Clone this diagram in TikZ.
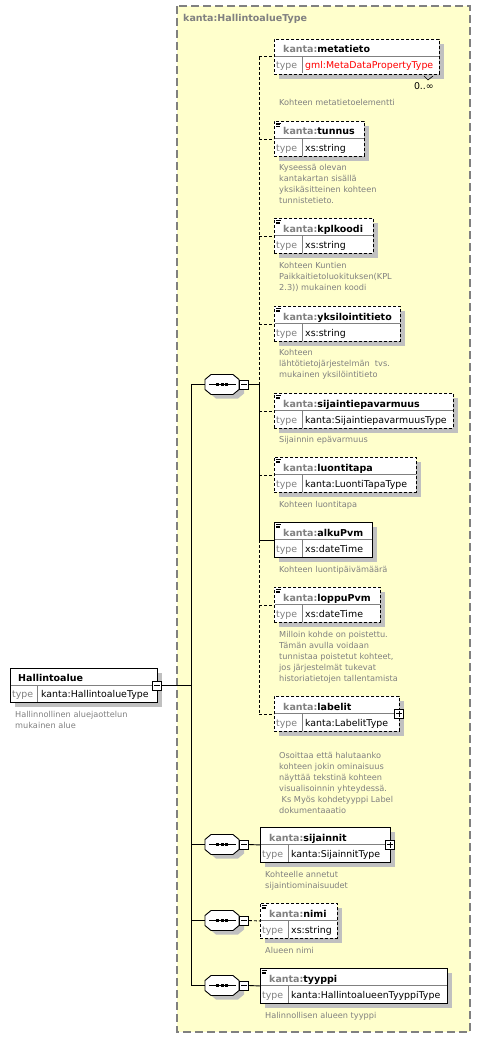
\documentclass[tikz,border=0pt]{standalone}
\usepackage{fontspec}
\setmainfont{DejaVu Sans}
\definecolor{ylw}{HTML}{FFFFCC}
\definecolor{bordc}{HTML}{808080}
\definecolor{shadowc}{HTML}{C0C0C0}
\definecolor{pref}{HTML}{808080}
\definecolor{dscc}{HTML}{808080}
\definecolor{divc}{HTML}{808080}
\tikzset{
  ebox/.style={draw=black, fill=white, line width=0.9pt, inner sep=0pt, minimum height=35pt},
  opt/.style={dash pattern=on 3pt off 2pt},
  req/.style={solid},
  divl/.style={draw=divc, line width=0.8pt},
  hdr/.style={anchor=base west, inner sep=0pt, font=\fontsize{9.5}{11}\selectfont\bfseries},
  typ/.style={anchor=base west, inner sep=0pt, font=\fontsize{9.4}{11}\selectfont},
  dsc/.style={anchor=north west, inner sep=0pt, align=left, text=dscc, font=\fontsize{8.2}{11}\selectfont},
  conn/.style={draw=black, line width=0.9pt},
  mbox/.style={draw=black, fill=white, line width=0.8pt, minimum size=9pt, inner sep=0pt},
  iconl/.style={draw=black, line width=0.6pt},
}
\newcommand{\elem}[8]{%
  \fill[shadowc] (#2+5,#3+5) rectangle (#2+#4+5,#3+40);
  \node[ebox,#5,minimum width=#4pt,anchor=north west] (#1) at (#2,#3) {};
  \draw[divl] (#2+0.5,#3+17.5) -- (#2+#4-0.5,#3+17.5);
  \draw[divl] (#2+28,#3+17.5) -- (#2+28,#3+34.5);
  \node[hdr] (#1-h) at (#2+9,#3+14) {\textcolor{pref}{kanta:}#6};
  \node[typ,text=pref] (#1-t) at (#2+2,#3+30) {type};
  \node[typ] (#1-v) at (#2+31,#3+30) {#7};
  \ifnum#8=1
    \draw[iconl] (#2+2,#3+2) -- (#2+7,#3+2);
    \draw[iconl] (#2+2,#3+3.8) -- (#2+6,#3+3.8);
    \draw[iconl] (#2+2,#3+5.6) -- (#2+6,#3+5.6);
  \fi
}
\newcommand{\dscr}[4]{\node[dsc] (#1) at (#2,#3-8) {\rule{0pt}{8pt}#4};}
\newcommand{\seqi}[2]{%
  \begin{scope}[shift={(222,#2)}]
    \fill[shadowc] (-6,-6) -- (16,-6) -- (22,-1) -- (22,9) -- (16,14) -- (-6,14) -- (-12,9) -- (-12,-1) -- cycle;
    \filldraw[fill=white, draw=black, line width=0.9pt] (-11,-10) -- (11,-10) -- (17,-5) -- (17,5) -- (11,10) -- (-11,10) -- (-17,5) -- (-17,-5) -- cycle;
    \node[inner sep=0pt, minimum width=34pt, minimum height=20pt] (#1) at (0,0) {};
    \draw[black, line width=0.9pt] (-13,0) -- (14,0);
    \fill[black] (-5.8,-1.3) rectangle (-2.8,1.3);
    \fill[black] (-1.5,-1.3) rectangle (1.5,1.3);
    \fill[black] (2.8,-1.3) rectangle (5.8,1.3);
    \node[mbox] (#1m) at (22,0) {};
    \draw[black, line width=0.8pt] (19,0) -- (25,0);
  \end{scope}
}
\begin{document}
\begin{tikzpicture}[x=1pt,y=-1pt]
\useasboundingbox (0,0) rectangle (481,1038);
\fill[white] (0,0) rectangle (481,1038);
% container
\filldraw[fill=ylw, draw=bordc, line width=1.3pt, dash pattern=on 8pt off 4pt] (177,6) rectangle (470,1032);
\node[hdr, text=pref] (title) at (183,22) {kanta:HallintoalueType};

% root element
\fill[shadowc] (15,673) rectangle (162,707);
\node[ebox, minimum width=147pt, minimum height=34pt, anchor=north west] (root) at (10,668) {};
\draw[divl] (10.5,685) -- (156.5,685);
\draw[divl] (37,685) -- (37,701.5);
\node[hdr] (root-h) at (18,681) {Hallintoalue};
\node[typ,text=pref] (root-t) at (12,697) {type};
\node[typ] (root-v) at (41,697) {kanta:HallintoalueType};
\node[mbox] (rootm) at (157,685.5) {};
\draw[black, line width=0.8pt] (154,685.5) -- (160,685.5);
\dscr{root-d}{15}{717}{Hallinnollinen aluejaottelun\\mukainen alue}

% sequence icons
\seqi{sA}{384.5}
\seqi{sB}{844.5}
\seqi{sC}{920.5}
\seqi{sD}{985.5}

% elements
\elem{metatieto}{274}{39}{165}{opt}{metatieto}{\textcolor{red}{gml:MetaDataPropertyType}}{0}
\draw[black, line width=0.6pt] (424,76) -- (428,80) -- (433,76);
\node[typ, anchor=base east] (mult) at (434,90) {0..∞};
\dscr{metatieto-d}{279}{105}{Kohteen metatietoelementti}

\elem{tunnus}{274}{121}{90}{opt}{tunnus}{xs:string}{1}
\dscr{tunnus-d}{279}{170}{Kyseessä olevan\\kantakartan sisällä\\yksikäsitteinen kohteen\\tunnistetieto.}

\elem{kplkoodi}{274}{218}{99}{opt}{kplkoodi}{xs:string}{1}
\dscr{kplkoodi-d}{279}{268}{Kohteen Kuntien\\Paikkaitietoluokituksen(KPL\\2.3)) mukainen koodi}

\elem{yksil}{274}{306}{126}{opt}{yksilointitieto}{xs:string}{1}
\dscr{yksil-d}{279}{355}{Kohteen\\lähtötietojärjestelmän\ \ tvs.\\mukainen yksilöintitieto}

\elem{sijep}{274}{393}{179}{opt}{sijaintiepavarmuus}{kanta:SijaintiepavarmuusType}{1}
\dscr{sijep-d}{279}{442}{Sijainnin epävarmuus}

\elem{luonti}{274}{457}{142}{opt}{luontitapa}{kanta:LuontiTapaType}{1}
\dscr{luonti-d}{279}{507}{Kohteen luontitapa}

\elem{alku}{274}{522}{98}{req}{alkuPvm}{xs:dateTime}{1}
\dscr{alku-d}{279}{572}{Kohteen luontipäivämäärä}

\elem{loppu}{274}{587}{106}{opt}{loppuPvm}{xs:dateTime}{1}
\dscr{loppu-d}{279}{637}{Milloin kohde on poistettu.\\Tämän avulla voidaan\\tunnistaa poistetut kohteet,\\jos järjestelmät tukevat\\historiatietojen tallentamista}

\elem{labelit}{274}{696}{125}{opt}{labelit}{kanta:LabelitType}{0}
\node[mbox] (labelitp) at (399,713.5) {};
\draw[black, line width=0.8pt] (396,713.5) -- (402,713.5) (399,710.5) -- (399,716.5);
\dscr{labelit-d}{279}{758}{Osoittaa että halutaanko\\kohteen jokin ominaisuus\\näyttää tekstinä kohteen\\visualisoinnin yhteydessä.\\\hspace*{2.5pt}Ks Myös kohdetyyppi Label\\dokumentaaatio}

\elem{sijainnit}{260}{827}{130}{req}{sijainnit}{kanta:SijainnitType}{0}
\node[mbox] (sijainnitp) at (390,844.5) {};
\draw[black, line width=0.8pt] (387,844.5) -- (393,844.5) (390,841.5) -- (390,847.5);
\dscr{sijainnit-d}{265}{877}{Kohteelle annetut\\sijaintiominaisuudet}

\elem{nimi}{260}{903}{77}{opt}{nimi}{xs:string}{1}
\dscr{nimi-d}{265}{953}{Alueen nimi}

\elem{tyyppi}{260}{968}{187}{req}{tyyppi}{kanta:HallintoalueenTyyppiType}{1}
\dscr{tyyppi-d}{265}{1018}{Halinnollisen alueen tyyppi}

% connectors
\coordinate (tr) at (191,685.5);
\coordinate (t1) at (191,384.5);
\coordinate (t4) at (191,985.5);
\coordinate (br) at (259,384.5);
\draw[conn] (t1) -- (t4);
\draw[conn] (rootm.east) -- (tr);
\draw[conn] (t1) -- (sA.west);
\draw[conn] (sB.west -| t1) -- (sB.west);
\draw[conn] (sC.west -| t1) -- (sC.west);
\draw[conn] (sD.west -| t1) -- (sD.west);
\draw[conn] (sAm.east) -- (br);
\draw[conn,opt] (br |- metatieto.west) -- (br);
\draw[conn] (br) -- (br |- alku.west);
\draw[conn,opt] (br |- alku.west) -- (br |- labelit.west);
\draw[conn,opt] (br |- metatieto.west) -- (metatieto.west);
\draw[conn,opt] (br |- tunnus.west) -- (tunnus.west);
\draw[conn,opt] (br |- kplkoodi.west) -- (kplkoodi.west);
\draw[conn,opt] (br |- yksil.west) -- (yksil.west);
\draw[conn,opt] (br |- sijep.west) -- (sijep.west);
\draw[conn,opt] (br |- luonti.west) -- (luonti.west);
\draw[conn] (br |- alku.west) -- (alku.west);
\draw[conn,opt] (br |- loppu.west) -- (loppu.west);
\draw[conn,opt] (br |- labelit.west) -- (labelit.west);
\draw[conn] (sBm.east) -- (sijainnit.west);
\draw[conn,opt] (sCm.east) -- (nimi.west);
\draw[conn] (sDm.east) -- (tyyppi.west);
\end{tikzpicture}
\end{document}
